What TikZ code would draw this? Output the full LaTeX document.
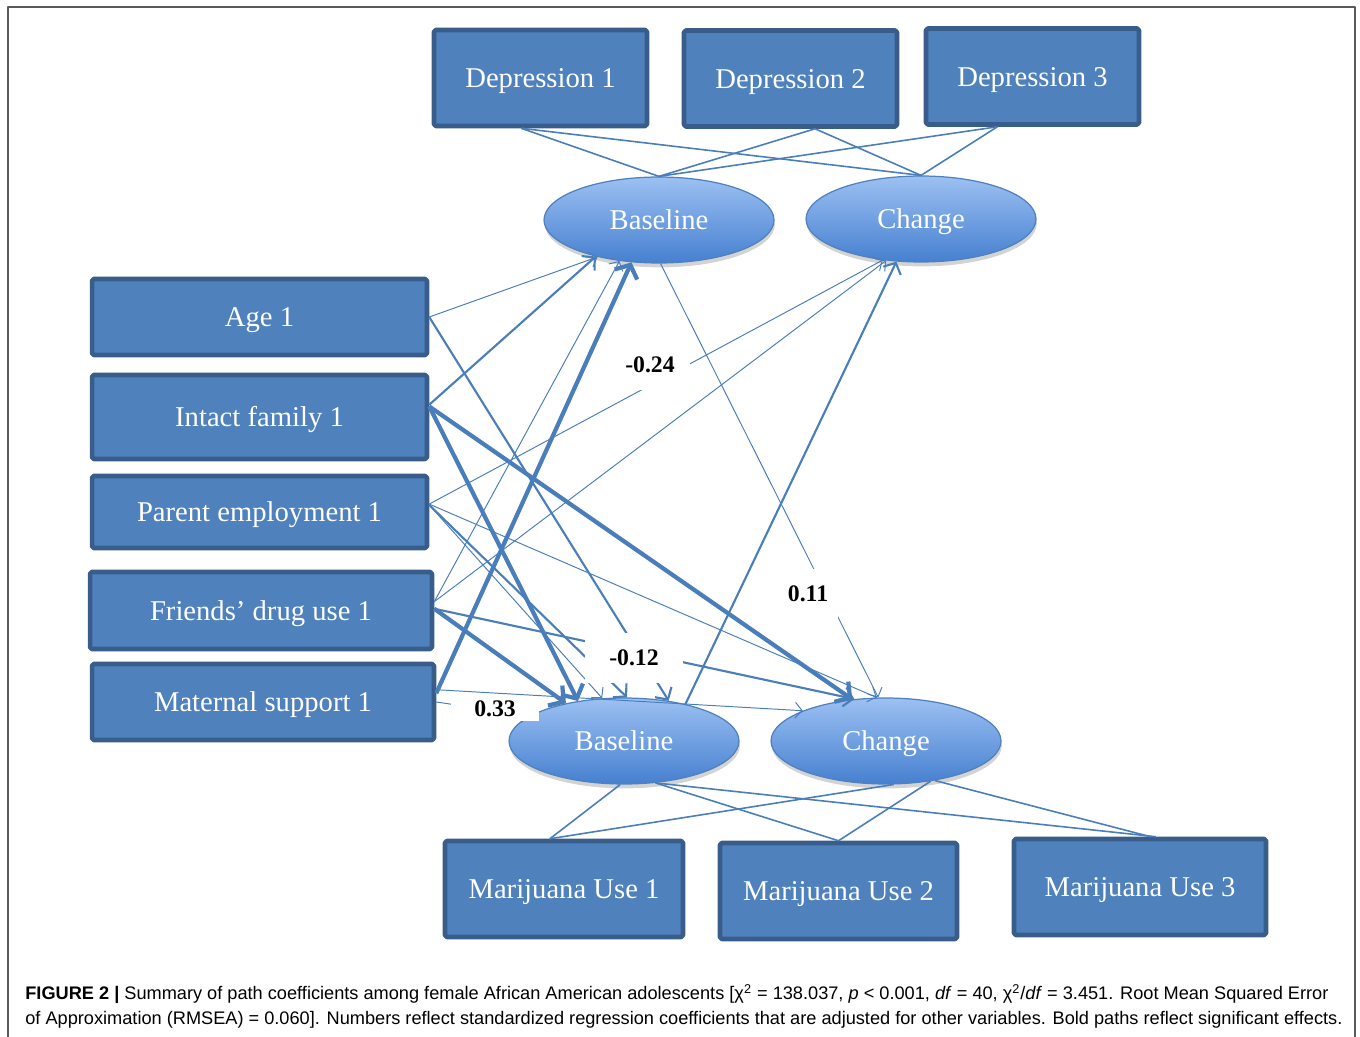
\documentclass[tikz,border=0pt]{standalone}
\usepackage{fontspec}
\setmainfont{Liberation Serif}
\newfontfamily\capfont{Liberation Sans}
\usetikzlibrary{calc, positioning}
\usetikzlibrary{arrows.meta}
\usetikzlibrary{shapes.geometric}
\usetikzlibrary{shadows}

\definecolor{boxfill}{HTML}{4F81BD}
\definecolor{boxline}{HTML}{385D8A}
\definecolor{pathblue}{HTML}{4A7EBB}
\definecolor{ellitop}{HTML}{9CC0F2}
\definecolor{ellibot}{HTML}{4680D0}
\definecolor{framegray}{HTML}{5A5A5A}

\tikzset{
  varbox/.style={draw=boxline, line width=2.6pt, fill=boxfill, rounded corners=1pt,
    text=white, inner sep=0pt, text height=11pt, text depth=0pt,
    font=\fontsize{16.3}{19}\selectfont},
  factor/.style={ellipse, draw=boxfill, line width=0.7pt, top color=ellitop,
    bottom color=ellibot, text=white, inner sep=0pt, minimum width=4.6cm,
    minimum height=1.72cm, text height=11pt, text depth=0pt,
    font=\fontsize{16.3}{19}\selectfont,
    drop shadow={shadow xshift=0.5pt, shadow yshift=-2.5pt, opacity=0.35}},
  loading/.style={draw=pathblue, line width=0.9pt},
  thinpath/.style={draw=pathblue, line width=0.55pt, -{Straight Barb[length=4pt,width=9pt]}},
  midpath/.style={draw=pathblue, line width=1.2pt, -{Straight Barb[length=5pt,width=11pt]}},
  boldpath/.style={draw=pathblue, line width=2.4pt, -{Straight Barb[length=6pt,width=14pt]}},
  coef/.style={fill=white, inner sep=0pt, font=\bfseries\fontsize{13.5}{16}\selectfont},
}

\begin{document}
\begin{tikzpicture}[x=0.02cm, y=-0.02cm, line join=round]
\useasboundingbox (0,0) rectangle (1360,1037);
\draw[framegray, line width=0.85pt] (8,1045) -- (8,7) -- (1355,7) -- (1355,1045);

\node[varbox, minimum width=4.26cm, minimum height=1.92cm] (dep1) at (540.5,78) {Depression 1};
\node[varbox, minimum width=4.26cm, minimum height=1.92cm] (dep2) at (790.5,78.5) {Depression 2};
\node[varbox, minimum width=4.26cm, minimum height=1.92cm] (dep3) at (1032.5,76.5) {Depression 3};

\node[varbox, minimum width=6.7cm, minimum height=1.52cm] (age) at (259.5,317) {Age 1};
\node[varbox, minimum width=6.7cm, minimum height=1.68cm] (intact) at (259.5,417) {Intact family 1};
\node[varbox, minimum width=6.7cm, minimum height=1.44cm] (employ) at (259.5,512) {Parent employment 1};
\node[varbox, minimum width=6.84cm, minimum height=1.54cm] (friends) at (261,610.5) {Friends’ drug use 1};
\node[varbox, minimum width=6.84cm, minimum height=1.52cm] (support) at (263,702) {Maternal support 1};

\node[varbox, minimum width=4.76cm, minimum height=1.92cm] (mar1) at (564,889) {Marijuana Use 1};
\node[varbox, minimum width=4.74cm, minimum height=1.92cm] (mar2) at (838.5,891) {Marijuana Use 2};
\node[varbox, minimum width=5.04cm, minimum height=1.92cm] (mar3) at (1140,887) {Marijuana Use 3};

\node[factor] (base1) at (659,220) {Baseline};
\node[factor] (chg1) at (921,219) {Change};
\node[factor] (base2) at (624,741) {Baseline};
\node[factor] (chg2) at (886,741) {Change};

\draw[loading] ([xshift=-11pt]dep1.south) -- (base1.north);
\draw[loading] ([xshift=-11pt]dep1.south) -- (chg1.north);
\draw[loading] ([xshift=14pt]dep2.south) -- (base1.north);
\draw[loading] ([xshift=14pt]dep2.south) -- (chg1.north);
\draw[loading] ([xshift=-20pt]dep3.south) -- (base1.north);
\draw[loading] ([xshift=-20pt]dep3.south) -- (chg1.north);

\draw[loading] (base2.265) -- ([xshift=-8pt]mar1.north);
\draw[loading] (base2.307) -- (mar2.north);
\draw[loading] (base2.307) -- ([xshift=9pt]mar3.north);
\draw[loading] (chg2.280) -- ([xshift=-8pt]mar1.north);
\draw[loading] (chg2.318) -- (mar2.north);
\draw[loading] (chg2.321) -- ([xshift=6pt]mar3.north);

\draw[thinpath] (age.east) -- (base1.211);
\draw[midpath] (age.east) -- (base2.42);
\draw[midpath] ([yshift=7pt]intact.east) -- (base1.210);
\draw[boldpath] ([yshift=6pt]intact.east) -- (base2.139);
\draw[boldpath] ([yshift=6pt]intact.east) -- (chg2.129);
\draw[thinpath] ([yshift=4.5pt]employ.east) -- (chg1.227);
\draw[thinpath] ([yshift=4.5pt]employ.east) -- (chg2.102);
\draw[midpath] ([yshift=4pt]employ.east) -- (base2.86);
\draw[thinpath] ([yshift=4pt]employ.east) -- (base2.117);
\draw[thinpath] ([yshift=5pt]friends.east) -- (base1.226);
\draw[thinpath] ([yshift=5pt]friends.east) -- (chg1.230);
\draw[boldpath] ([yshift=1pt]friends.east) -- (base2.147);
\draw[midpath] ([yshift=1pt]friends.east) -- (chg2.127);
\draw[boldpath] ([yshift=5pt]support.east) -- (base1.237);
\draw[thinpath] ([yshift=7pt]support.east) -- (chg2.160);
\draw[thinpath] (support.east) -- (base2.165);
\draw[thinpath] (base1.272) -- (chg2.100);
\draw[midpath] (base2.31) -- (chg1.240);

\node[coef, minimum width=45pt, minimum height=28pt] (lab24) at (650,365) {-0.24};
\node[coef, minimum width=56pt, minimum height=28pt] (lab12) at (634,658) {-0.12};
\node[coef, minimum width=34pt, minimum height=29pt] (lab11) at (808,594) {0.11};
\node[coef, minimum width=50pt, minimum height=14pt] (lab33) at (495,709) {0.33};

\node[anchor=north west, align=left, inner sep=0pt,
  font=\capfont\fontsize{10.35}{14.2}\selectfont] (caption) at (25,984)
  {\textbf{FIGURE 2 |} Summary of path coefficients among female African American adolescents [χ\textsuperscript{2} = 138.037, \textit{p} < 0.001, \textit{df} = 40, χ\textsuperscript{2}/\textit{df} = 3.451. Root Mean Squared Error\\
   of Approximation (RMSEA) = 0.060]. Numbers reflect standardized regression coefficients that are adjusted for other variables. Bold paths reflect significant effects.};
\end{tikzpicture}
\end{document}
